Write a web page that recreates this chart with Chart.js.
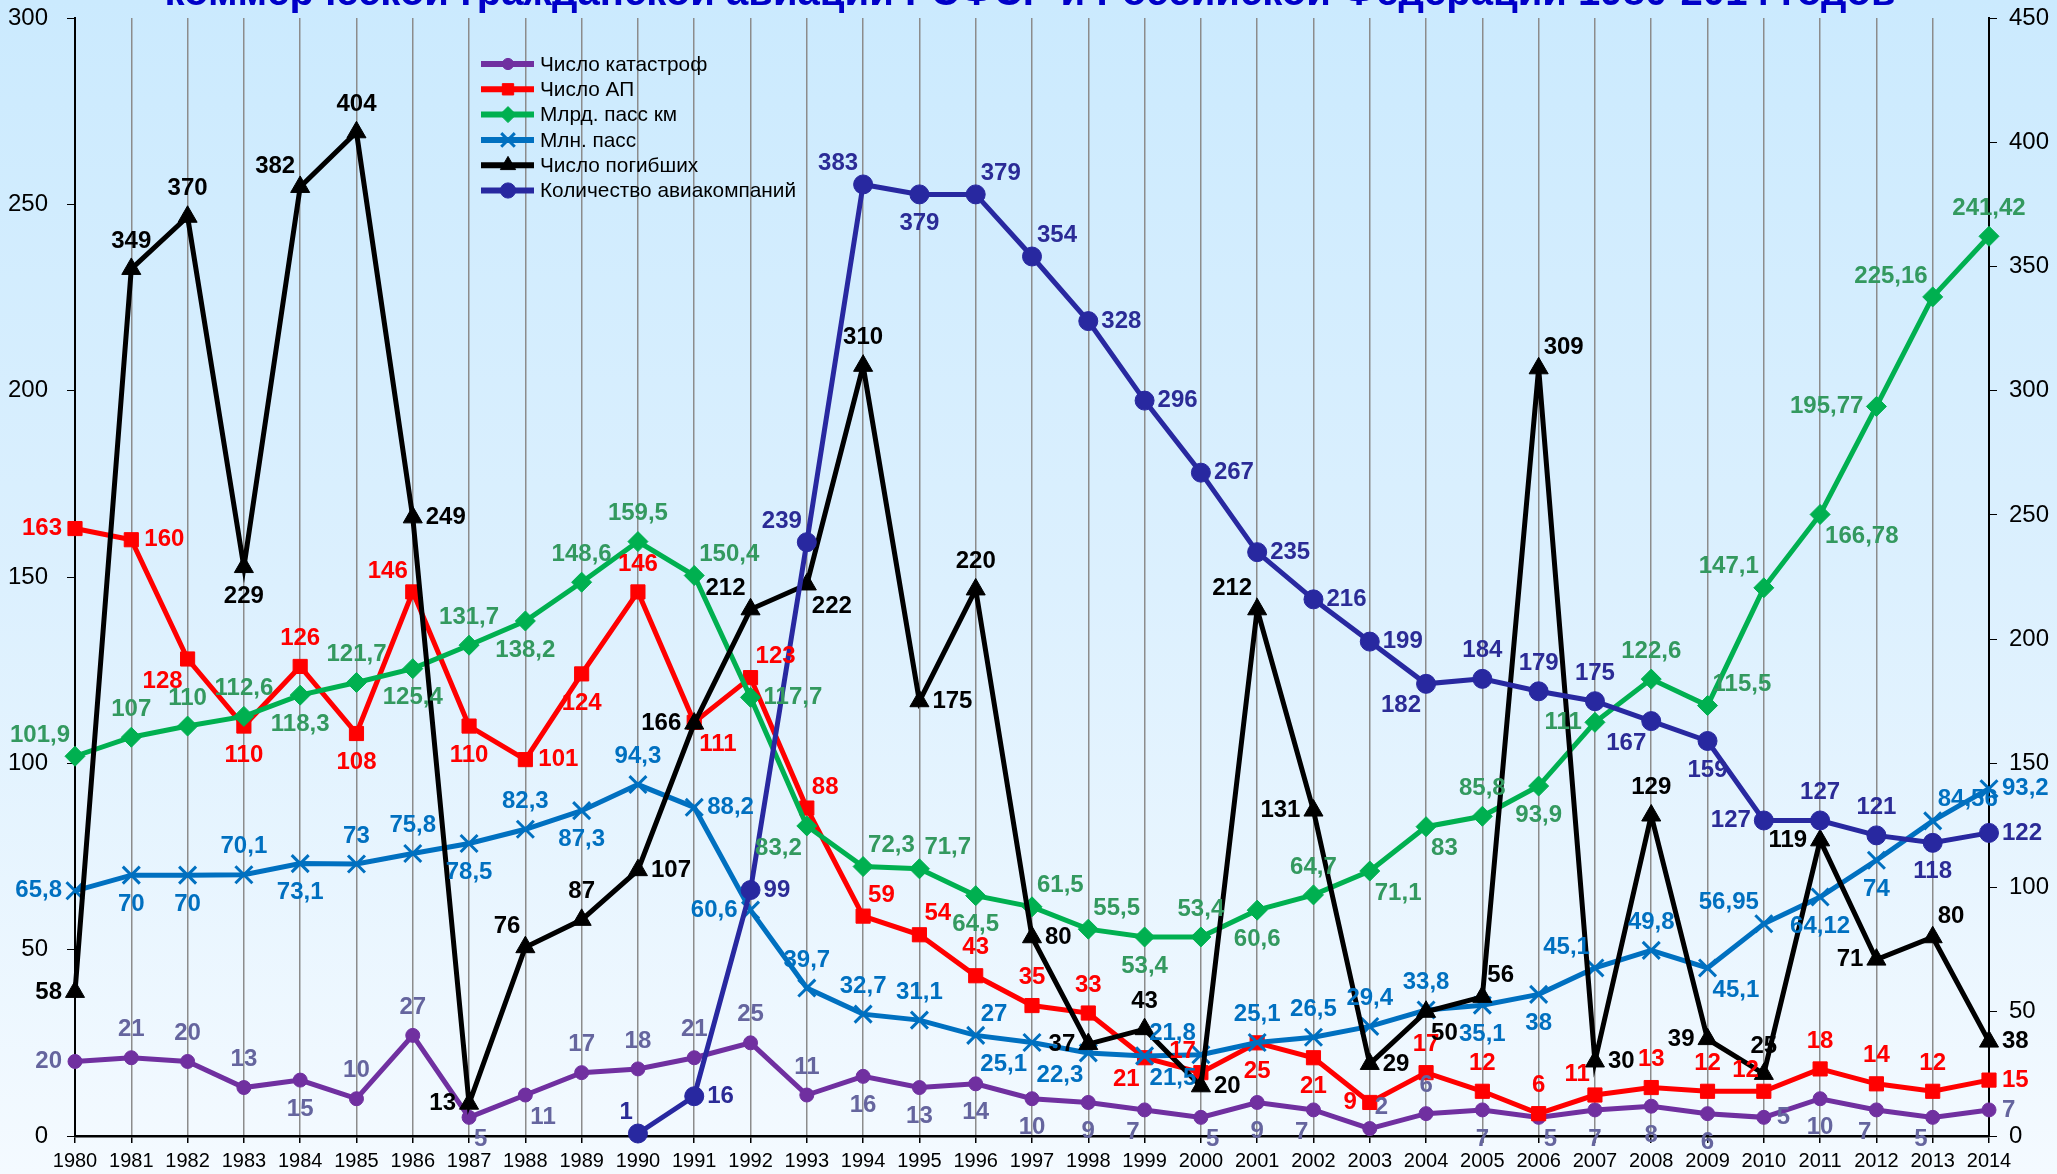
<!DOCTYPE html>
<html>
<head>
<meta charset="utf-8">
<title>Безопасность полетов 1980-2014</title>
<script src="https://cdn.jsdelivr.net/npm/chart.js@4.4.0/dist/chart.umd.min.js"></script>
<style>
  html, body { margin: 0; padding: 0; overflow: hidden; background: #fff; }
  #wrap { position: relative; width: 2057px; height: 1174px; }
</style>
</head>
<body>
<div id="wrap"><canvas id="chart" width="2057" height="1174"></canvas></div>
<script>
// --- data ---
const years = ['1980', '1981', '1982', '1983', '1984', '1985', '1986', '1987', '1988', '1989',
  '1990', '1991', '1992', '1993', '1994', '1995', '1996', '1997', '1998', '1999',
  '2000', '2001', '2002', '2003', '2004', '2005', '2006', '2007', '2008', '2009',
  '2010', '2011', '2012', '2013', '2014'];

const catastrophes = [20, 21, 20, 13, 15, 10, 27, 5, 11, 17, 18, 21, 25, 11, 16, 13, 14, 10, 9, 7,
  5, 9, 7, 2, 6, 7, 5, 7, 8, 6, 5, 10, 7, 5, 7];
const accidents = [163, 160, 128, 110, 126, 108, 146, 110, 101, 124, 146, 111, 123, 88, 59, 54, 43, 35, 33, 21,
  17, 25, 21, 9, 17, 12, 6, 11, 13, 12, 12, 18, 14, 12, 15];
const passKm = [101.9, 107, 110, 112.6, 118.3, 121.7, 125.4, 131.7, 138.2, 148.6, 159.5, 150.4, 117.7, 83.2, 72.3, 71.7, 64.5, 61.5, 55.5, 53.4,
  53.4, 60.6, 64.7, 71.1, 83, 85.8, 93.9, 111, 122.6, 115.5, 147.1, 166.78, 195.77, 225.16, 241.42];
const passengers = [65.8, 70, 70, 70.1, 73.1, 73, 75.8, 78.5, 82.3, 87.3, 94.3, 88.2, 60.6, 39.7, 32.7, 31.1, 27, 25.1, 22.3, 21.5,
  21.8, 25.1, 26.5, 29.4, 33.8, 35.1, 38, 45.1, 49.8, 45.1, 56.95, 64.12, 74, 84.56, 93.2];
const deaths = [58, 349, 370, 229, 382, 404, 249, 13, 76, 87, 107, 166, 212, 222, 310, 175, 220, 80, 37, 43,
  20, 212, 131, 29, 50, 56, 309, 30, 129, 39, 25, 119, 71, 80, 38];
const airlines = [null, null, null, null, null, null, null, null, null, null,
  1, 16, 99, 239, 383, 379, 379, 354, 328, 296, 267, 235, 216, 199, 182, 184, 179, 175, 167, 159,
  127, 127, 121, 118, 122];

// where each value label sits next to its point (t/b/l/r and corners)
const catastrophesPos = 'l t t t b t t br br t t t t t b b b b b bl br b bl tr t b br b b b r b bl bl r'.split(' ');
const accidentsPos = 'l r bl b t b tl b r b t br tr tr tr tr t t t bl tl b b l t t t tl t t tl t t t r'.split(' ');
const passKmPos = 'tl t t t b t b t b t t tr r bl tr tr b tr tr b t b t br br t b l t tr tl br l tl t'.split(' ');
const passengersPos = 'l b b t b t t b t b t r l t t t tr bl bl br tl t t t t b b tl t br tl b b tr r'.split(' ');
const deathsPos = 'l t t b tl t r l tl t r l tl br t r t r l t r tl l r br tr tr r t l t l l tr r'.split(' ');
const airlinesPos = '- - - - - - - - - - tl r r tl tl b tr tr r r r r r r bl t t t bl b l t t b r'.split(' ');

const FONT = "'Liberation Sans', Arial, sans-serif";
const TITLE_TEXT = 'коммерческой гражданской авиации РСФСР и Российской Федерации 1980-2014 годов';

function fmt(v) {
  return String(v).replace('.', ',');
}

// light blue gradient behind everything + cut-off title line
const backdrop = {
  id: 'backdrop',
  beforeDraw(chart) {
    const { ctx, width, height } = chart;
    ctx.save();
    const g = ctx.createLinearGradient(0, 0, 0, height);
    g.addColorStop(0, '#CBEAFE');
    g.addColorStop(0.5, '#DCF0FE');
    g.addColorStop(1, '#F4FAFF');
    ctx.fillStyle = g;
    ctx.fillRect(0, 0, width, height);

    ctx.font = `bold 40px ${FONT}`;
    const w40 = ctx.measureText(TITLE_TEXT).width;
    const size = 40 * 1732 / w40;
    ctx.font = `bold ${size.toFixed(1)}px ${FONT}`;
    ctx.fillStyle = '#0000C8';
    ctx.textAlign = 'center';
    ctx.textBaseline = 'alphabetic';
    ctx.fillText(TITLE_TEXT, 1030, 5);
    ctx.restore();
  }
};

// value labels next to each point
const valueLabels = {
  id: 'valueLabels',
  afterDatasetsDraw(chart) {
    const ctx = chart.ctx;
    ctx.save();
    ctx.font = `bold 24px ${FONT}`;
    ctx.textAlign = 'center';
    ctx.textBaseline = 'middle';
    chart.data.datasets.forEach((ds, i) => {
      const meta = chart.getDatasetMeta(i);
      ctx.fillStyle = ds.labelColor;
      meta.data.forEach((pt, j) => {
        const v = ds.data[j];
        if (v == null) return;
        const pos = ds.labelPos[j];
        const text = fmt(v);
        const w = ctx.measureText(text).width;
        const corner = pos.length === 2;
        let dx = 0, dy = 0;
        if (pos.includes('t')) dy = corner ? -21 : -28;
        if (pos.includes('b')) dy = corner ? 22 : 29;
        if (pos.includes('l')) dx = -(w / 2 + (corner ? 5 : 13));
        if (pos.includes('r')) dx = w / 2 + (corner ? 5 : 13);
        ctx.fillText(text, pt.x + dx, pt.y + dy);
      });
    });
    ctx.restore();
  }
};

// legend placed inside the plot, like the original
const insideLegend = {
  id: 'insideLegend',
  afterDraw(chart) {
    const ctx = chart.ctx;
    ctx.save();
    ctx.font = `20.8px ${FONT}`;
    ctx.textAlign = 'left';
    ctx.textBaseline = 'middle';
    chart.data.datasets.forEach((ds, i) => {
      const y = 64 + i * 25.3;
      ctx.strokeStyle = ds.borderColor;
      ctx.lineWidth = 6;
      ctx.beginPath();
      ctx.moveTo(481, y);
      ctx.lineTo(534, y);
      ctx.stroke();
      ctx.fillStyle = ds.backgroundColor;
      ctx.lineWidth = ds.pointBorderWidth;
      Chart.helpers.drawPoint(ctx, {
        pointStyle: ds.pointStyle,
        radius: ds.pointRadius * 0.8,
        borderWidth: ds.pointBorderWidth,
        rotation: 0
      }, 508, y);
      ctx.fillStyle = '#000';
      ctx.fillText(ds.label, 540, y + 1);
    });
    ctx.restore();
  }
};

// fixed axis sizes so the plot box matches the original
function fixVertical(width) {
  return scale => {
    scale.width = width;
    scale.paddingTop = 0;
    scale.paddingBottom = 0;
  };
}

const ctx = document.getElementById('chart');

new Chart(ctx, {
  type: 'line',
  data: {
    labels: years,
    datasets: [
      {
        label: 'Число катастроф',
        data: catastrophes,
        yAxisID: 'y',
        borderColor: '#7030A0',
        backgroundColor: '#7030A0',
        borderWidth: 5,
        pointStyle: 'circle',
        pointRadius: 7,
        pointBorderWidth: 1,
        order: 6,
        labelColor: '#65659E',
        labelPos: catastrophesPos
      },
      {
        label: 'Число АП',
        data: accidents,
        yAxisID: 'y',
        borderColor: '#FF0000',
        backgroundColor: '#FF0000',
        borderWidth: 5,
        pointStyle: 'rect',
        pointRadius: 10,
        pointBorderWidth: 1,
        order: 5,
        labelColor: '#FF0000',
        labelPos: accidentsPos
      },
      {
        label: 'Млрд. пасс км',
        data: passKm,
        yAxisID: 'y',
        borderColor: '#00B050',
        backgroundColor: '#00B050',
        borderWidth: 5,
        pointStyle: 'rectRot',
        pointRadius: 10,
        pointBorderWidth: 1,
        order: 4,
        labelColor: '#33995F',
        labelPos: passKmPos
      },
      {
        label: 'Млн. пасс',
        data: passengers,
        yAxisID: 'y',
        borderColor: '#0070C0',
        backgroundColor: '#0070C0',
        borderWidth: 5,
        pointStyle: 'crossRot',
        pointRadius: 12,
        pointBorderWidth: 3,
        order: 3,
        labelColor: '#0070C0',
        labelPos: passengersPos
      },
      {
        label: 'Число погибших',
        data: deaths,
        yAxisID: 'y1',
        borderColor: '#000000',
        backgroundColor: '#000000',
        borderWidth: 5,
        pointStyle: 'triangle',
        pointRadius: 11,
        pointBorderWidth: 1,
        order: 2,
        labelColor: '#000000',
        labelPos: deathsPos
      },
      {
        label: 'Количество авиакомпаний',
        data: airlines,
        yAxisID: 'y1',
        borderColor: '#2828A0',
        backgroundColor: '#2828A0',
        borderWidth: 5,
        pointStyle: 'circle',
        pointRadius: 9.5,
        pointBorderWidth: 1,
        order: 1,
        labelColor: '#2B2B96',
        labelPos: airlinesPos
      }
    ].map(ds => Object.assign({ tension: 0, clip: false, fill: false, spanGaps: false }, ds))
  },
  options: {
    responsive: false,
    animation: false,
    layout: { padding: { top: 18, left: 0, right: 0, bottom: 0 } },
    plugins: {
      legend: { display: false },
      tooltip: { enabled: false },
      title: { display: false }
    },
    scales: {
      x: {
        type: 'category',
        offset: false,
        grid: { color: '#8C8C8C', lineWidth: 1.5, tickColor: '#000', tickLength: 7 },
        border: { color: '#000', width: 2.5 },
        ticks: { color: '#000', font: { family: FONT, size: 20 }, padding: 6, maxRotation: 0, autoSkip: false },
        afterFit(scale) {
          scale.height = 38;
          scale.paddingLeft = 0;
          scale.paddingRight = 0;
        }
      },
      y: {
        position: 'left',
        min: 0,
        max: 300,
        grid: { drawOnChartArea: false, tickColor: '#000', tickLength: 8 },
        border: { color: '#000', width: 2 },
        ticks: { stepSize: 50, color: '#000', font: { family: FONT, size: 24 }, padding: 19 },
        afterFit: fixVertical(75)
      },
      y1: {
        position: 'right',
        min: 0,
        max: 450,
        grid: { drawOnChartArea: false, tickColor: '#000', tickLength: 8 },
        border: { color: '#000', width: 2 },
        ticks: { stepSize: 50, color: '#000', font: { family: FONT, size: 24 }, padding: 12 },
        afterFit: fixVertical(68)
      }
    }
  },
  plugins: [backdrop, valueLabels, insideLegend]
});
</script>
</body>
</html>
